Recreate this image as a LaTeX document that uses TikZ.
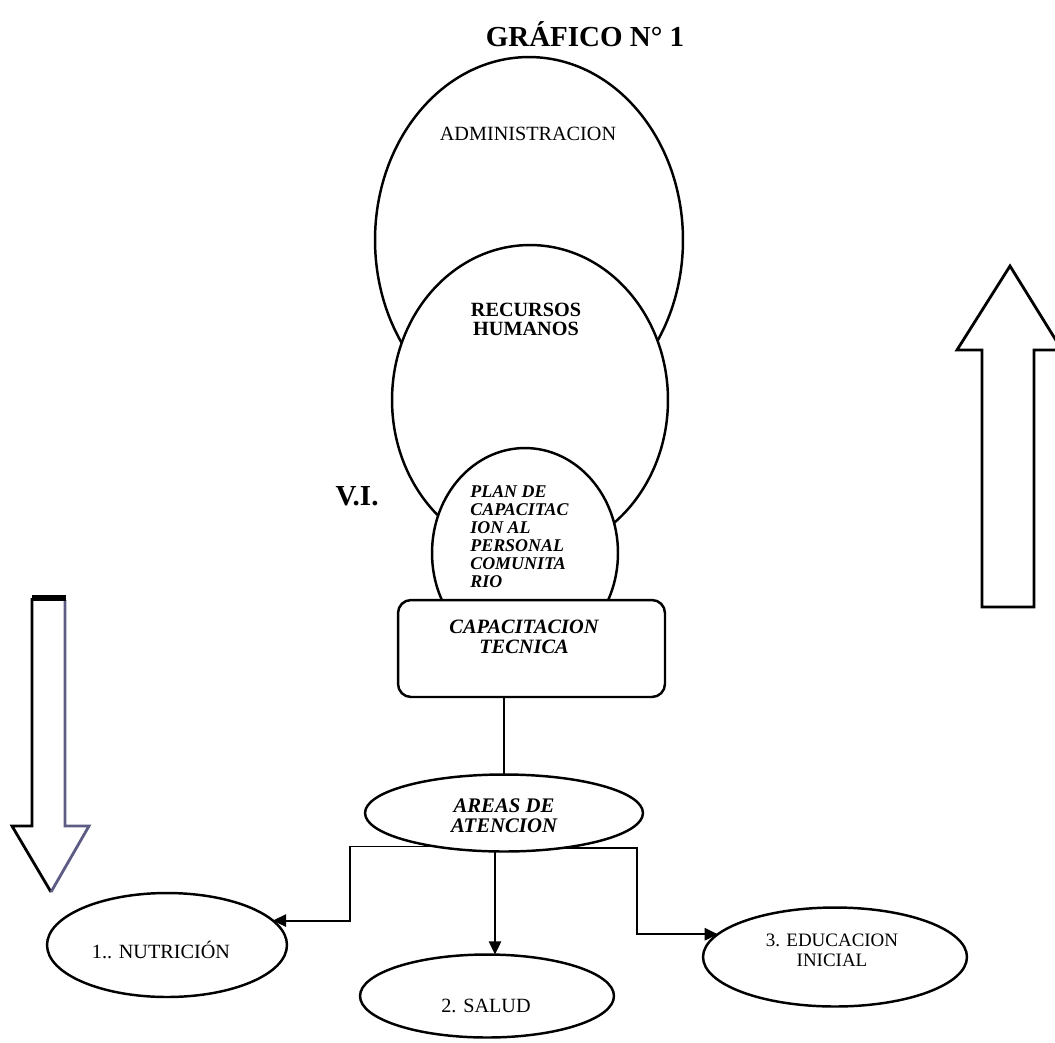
\documentclass[tikz,border=0pt]{standalone}
\usepackage{fontspec}
\setmainfont{Liberation Serif}
\usetikzlibrary{shapes.geometric,arrows.meta,calc}
\definecolor{inkblue}{rgb}{0.36,0.36,0.52}

\begin{document}
\begin{tikzpicture}[x=0.02cm, y=-0.02cm,
  oval/.style={ellipse, draw, fill=white, line width=1.4pt, inner sep=0pt, outer sep=0pt},
  roundbox/.style={rectangle, rounded corners=0.26cm, draw, fill=white, line width=1.4pt, inner sep=0pt, outer sep=0pt},
  txt/.style={inner sep=0pt, align=center, font=\fontsize{11.5}{12}\selectfont},
  bigbold/.style={inner sep=0pt, font=\bfseries\fontsize{16.5}{18}\selectfont},
  link/.style={line width=1.1pt},
  linkarrow/.style={line width=1.1pt, -{Triangle[length=7.5pt,width=7pt]}},
  blockarrow/.style={line width=1.6pt, line join=miter}]

\useasboundingbox (0,0) rectangle (1055,1042);
\clip (0,0) rectangle (1055,1042);

% title and side label
\node[bigbold, anchor=base] (title) at (585,46) {GRÁFICO N° 1};
\node[bigbold, anchor=base] (vi) at (357,505) {V.I.};

% nested ovals, each one drawn over the previous
\node[oval, minimum width=6.16cm, minimum height=7.32cm] (admin) at (529,240) {};
\node[oval, minimum width=5.52cm, minimum height=6.2cm] (rrhh) at (530,400) {};
\node[oval, minimum width=3.72cm, minimum height=4.2cm] (plan) at (525,553) {};
\node[roundbox, minimum width=5.34cm, minimum height=1.94cm] (capbox) at (531.5,648.5) {};

\node[txt, anchor=base] (admintxt) at (528,140) {ADMINISTRACION};
\node[txt, anchor=north, font=\bfseries\fontsize{11.5}{10.4}\selectfont] (rrhhtxt) at (526,303) {RECURSOS\\HUMANOS};
\node[txt, anchor=north west, align=left, font=\bfseries\itshape\fontsize{10.2}{10.25}\selectfont] (plantxt) at (470,485)
  {PLAN DE\\CAPACITAC\\ION AL\\PERSONAL\\COMUNITA\\RIO};
\node[txt, anchor=north, font=\bfseries\itshape\fontsize{11.6}{11}\selectfont] (captxt) at (524,620) {CAPACITACION\\TECNICA};

% areas and their three branches
\node[oval, minimum width=5.56cm, minimum height=1.54cm] (areas) at (504,813) {};
\node[txt, anchor=north, font=\bfseries\itshape\fontsize{11.8}{11.4}\selectfont] (areastxt) at (504,798) {AREAS DE\\ATENCION};

\node[oval, minimum width=4.8cm, minimum height=2.08cm] (nutri) at (167,945) {};
\node[oval, minimum width=5.08cm, minimum height=1.66cm] (salud) at (487,996) {};
\node[oval, minimum width=5.28cm, minimum height=1.98cm] (edu) at (835,957) {};

\node[txt, anchor=base] (nutritxt) at (161,958) {1.. NUTRICIÓN};
\node[txt, anchor=base] (saludtxt) at (486,1012) {2. SALUD};
\node[txt, anchor=north, font=\fontsize{10.8}{11.4}\selectfont] (edutxt) at (832,934) {3. EDUCACION\\INICIAL};

\coordinate (leftbus) at (350,0);
\coordinate (midbus) at (495,0);
\coordinate (rightbus) at (637,0);

\draw[link] (areas.north |- capbox.south) -- (areas.north);
\draw[linkarrow] (areas.206) -| (leftbus |- nutri.13) -- (nutri.13);
\draw[linkarrow] (midbus |- areas.south) -- (midbus |- salud.north);
\draw[linkarrow] (areas.-32) -| (rightbus |- edu.169) -- (edu.169);

% hollow arrow pointing down, left side
\draw[blockarrow] (32,598) -- (32,826) -- (12,826) -- (51,892);
\draw[blockarrow, inkblue] (65,600) -- (65,826) -- (89,826) -- (51,892);
\draw[line width=3pt] (32,598) -- (66,598);

% hollow arrow pointing up, right side
\draw[blockarrow] (982,607) -- (982,350) -- (957,350) -- (1010,266) -- (1062,350)
  -- (1034,350) -- (1034,607) -- cycle;
\end{tikzpicture}
\end{document}
